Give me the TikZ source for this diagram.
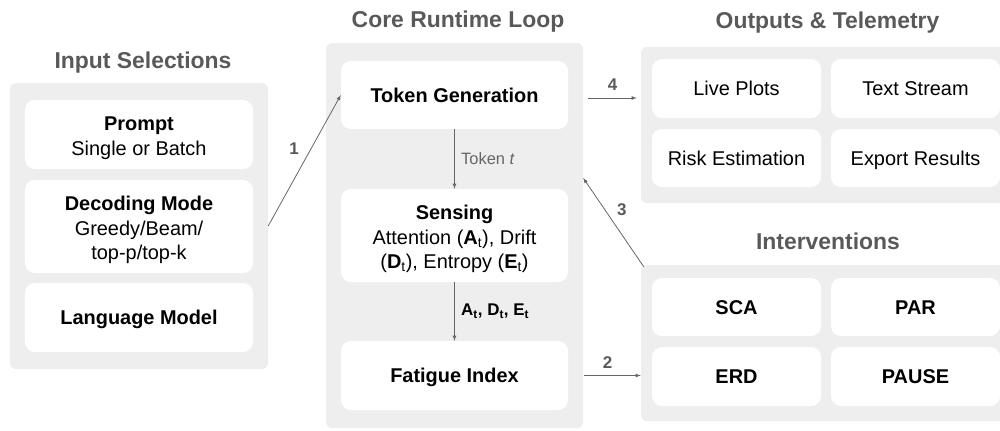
\documentclass[tikz,border=0pt]{standalone}
\usepackage{fontspec}
\setmainfont{Liberation Sans}
\usetikzlibrary{arrows.meta}
\definecolor{panelgray}{HTML}{EEEEEE}
\definecolor{titlegray}{HTML}{595959}
\definecolor{arrowgray}{HTML}{666666}
\newcommand{\sbt}{\textsubscript{t}}
\newcommand{\topstrut}{\rule{0pt}{21.5bp}}
\tikzset{
  panel/.style={fill=panelgray,rounded corners=6bp,draw=none,inner sep=0pt},
  card/.style={fill=white,rounded corners=10bp,draw=none,align=center,inner sep=0pt,
    font=\fontsize{20}{24.5}\selectfont},
  tile/.style={card,text height=16bp,text depth=2bp},
  head/.style={text=titlegray,font=\fontsize{23}{26}\selectfont\bfseries,text height=21bp,text depth=4.5bp},
  flow/.style={->,draw=arrowgray,line width=0.8bp},
  num/.style={text=titlegray,font=\fontsize{17}{20}\selectfont\bfseries},
}
\begin{document}
\begin{tikzpicture}[>=latex,x=1bp,y=-1bp]
    \useasboundingbox (0,0) rectangle (1000,430);
    \clip (0,0) rectangle (1000,430);
    %% panels
    \node (inpanel) at (139,226) [panel,minimum width=258bp,minimum height=286bp] {};
    \node (corepanel) at (454.5,235.5) [panel,minimum width=257bp,minimum height=385bp] {};
    \node (outpanel) at (825.5,125) [panel,minimum width=369bp,minimum height=156bp] {};
    \node (intpanel) at (825.5,343) [panel,minimum width=369bp,minimum height=156bp] {};
    %% titles
    \node (intitle) at (143,60) [head] {Input Selections};
    \node (coretitle) at (458,19) [head] {Core Runtime Loop};
    \node (outtitle) at (827.5,20) [head] {Outputs \& Telemetry};
    \node (inttitle) at (828,241) [head] {Interventions};
    %% input selections
    \node (prompt) at (139,134.5) [card,minimum width=228bp,minimum height=69bp] {\topstrut\textbf{Prompt}\\Single or Batch};
    \node (decoding) at (139,226.5) [card,minimum width=228bp,minimum height=93bp] {\topstrut\textbf{Decoding Mode}\\Greedy/Beam/\\top-p/top-k};
    \node (langmodel) at (139,317.5) [tile,minimum width=228bp,minimum height=69bp] {\textbf{Language Model}};
    %% core loop
    \node (tokgen) at (454.5,95) [tile,minimum width=227bp,minimum height=68bp] {\textbf{Token Generation}};
    \node (sensing) at (454.5,235.5) [card,minimum width=227bp,minimum height=93bp] {\topstrut\textbf{Sensing}\\Attention (\textbf{A}\sbt), Drift\\(\textbf{D}\sbt), Entropy (\textbf{E}\sbt)};
    \node (fatigue) at (454.5,375.5) [tile,minimum width=227bp,minimum height=69bp] {\textbf{Fatigue Index}};
    %% outputs
    \node (liveplots) at (736.5,88.5) [tile,minimum width=169bp,minimum height=59bp] {Live Plots};
    \node (textstream) at (915.5,88.5) [tile,minimum width=169bp,minimum height=59bp] {Text Stream};
    \node (risk) at (736.5,158) [tile,minimum width=169bp,minimum height=58bp] {Risk Estimation};
    \node (export) at (915.5,158) [tile,minimum width=169bp,minimum height=58bp] {Export Results};
    %% interventions
    \node (sca) at (736.5,307) [tile,minimum width=169bp,minimum height=58bp] {\textbf{SCA}};
    \node (par) at (915.5,307) [tile,minimum width=169bp,minimum height=58bp] {\textbf{PAR}};
    \node (erd) at (736.5,376.5) [tile,minimum width=169bp,minimum height=59bp] {\textbf{ERD}};
    \node (pause) at (915.5,376.5) [tile,minimum width=169bp,minimum height=59bp] {\textbf{PAUSE}};
    %% connectors
    \draw [flow] (inpanel.east) -- (tokgen.west) node [num,midway,above left=2bp] {1};
    \draw [flow] (tokgen.south) -- (sensing.north)
      node [midway,right=3bp,text=arrowgray,font=\fontsize{16.5}{20}\selectfont] {Token \textit{t}};
    \draw [flow] (sensing.south) -- (fatigue.north)
      node [midway,right=3bp,font=\fontsize{17}{20}\selectfont\bfseries] {A\sbt, D\sbt, E\sbt};
    \draw [flow] ([xshift=5bp,yshift=-3bp]corepanel.east |- tokgen.east) -- ([xshift=-4bp,yshift=-3bp]outpanel.west |- tokgen.east)
      node [num,midway,above=4bp] {4};
    \draw [flow] ([xshift=1bp]corepanel.east |- fatigue.east) -- (intpanel.west |- fatigue.east)
      node [num,midway,above=3bp,xshift=-5bp] {2};
    \draw [flow] ([xshift=3bp,yshift=-2bp]intpanel.north west) -- ([yshift=57.5bp]corepanel.east)
      node [num,midway,right=0bp,yshift=13bp] {3};
    %
\end{tikzpicture}
\end{document}
